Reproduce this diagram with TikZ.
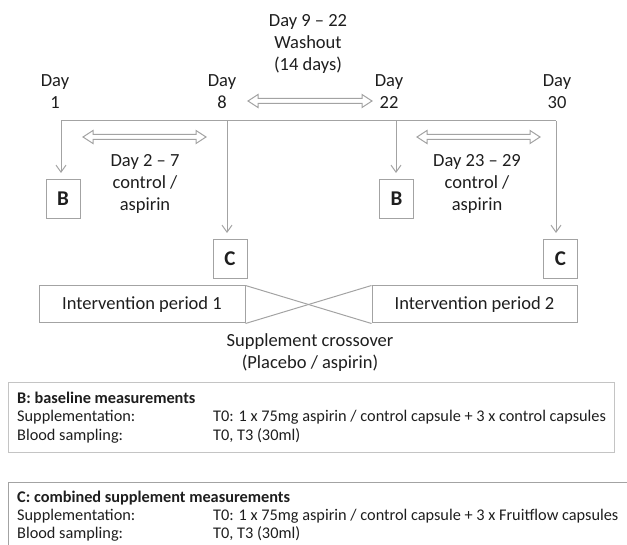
\documentclass[tikz,border=0pt]{standalone}
\usepackage{fontspec}
\setmainfont{Carlito}
\usetikzlibrary{arrows.meta}
\definecolor{lnc}{HTML}{A3A3A3}
\definecolor{boxc}{HTML}{C4C4C4}
\definecolor{txc}{HTML}{1E1E1E}
\newcommand\hollowarrow[3]{\draw[lnstyle, fill=white, line join=miter] (#1,#3) -- ({#1+10},{#3-6.5}) -- ({#1+10},{#3-2.5}) -- ({#2-10},{#3-2.5}) -- ({#2-10},{#3-6.5}) -- (#2,#3) -- ({#2-10},{#3+6.5}) -- ({#2-10},{#3+2.5}) -- ({#1+10},{#3+2.5}) -- ({#1+10},{#3+6.5}) -- cycle;}
\begin{document}
\begin{tikzpicture}[x=1pt,y=-1pt,
  lbl/.style={align=center, text=txc, font=\fontsize{18.5}{22}\selectfont, inner sep=0},
  lnstyle/.style={draw=lnc, line width=1pt},
  arr/.style={lnstyle, -{Straight Barb[length=7pt,width=10pt]}, shorten >=6pt},
  mbox/.style={draw=lnc, line width=1pt, text=txc, font=\fontsize{21}{21}\selectfont\bfseries, minimum width=34pt, minimum height=39pt, inner sep=0},
  ipbox/.style={draw=lnc, line width=1pt, text=txc, font=\fontsize{18.5}{22}\selectfont, minimum height=37pt, inner sep=0},
  small/.style={text=txc, font=\fontsize{16.3}{19}\selectfont, inner sep=0, anchor=base west},
  smallb/.style={small, font=\fontsize{16.3}{19}\selectfont\bfseries},
]
\useasboundingbox (0,0) rectangle (627,545);
% day labels
\node[lbl] (d1) at (55,92) {Day\\1};
\node[lbl] (d8) at (222,92) {Day\\8};
\node[lbl] (d22) at (389,92) {Day\\22};
\node[lbl] (d30) at (557,92) {Day\\30};
% washout
\node[lbl] (wash) at (308,44) {Day 9 -- 22\\Washout\\(14 days)};
\hollowarrow{248}{372}{101}
% timeline
\coordinate (t1) at (61,121);
\coordinate (t8) at (227,121);
\coordinate (t22) at (396,121);
\coordinate (t30) at (556,121);
\draw[lnstyle] (t1) -- (t30);
% measurement boxes
\node[mbox] (b1) at (63,199) {B};
\node[mbox] (c1) at (230,259) {C};
\node[mbox] (b2) at (396.5,199) {B};
\node[mbox] (c2) at (560.5,259) {C};
\draw[arr] (t1) -- (t1 |- b1.north);
\draw[arr] (t8) -- (t8 |- c1.north);
\draw[arr] (t22) -- (t22 |- b2.north);
\draw[arr] (t30) -- (t30 |- c2.north);
% treatment arrows
\hollowarrow{83}{206}{137}
\hollowarrow{417}{540}{137}
\node[lbl] (p1) at (145,184) {Day 2 -- 7\\control /\\aspirin};
\node[lbl] (p2) at (477,184) {Day 23 -- 29\\control /\\aspirin};
% intervention periods
\node[ipbox, minimum width=206pt] (ip1) at (142,304.5) {Intervention period 1};
\node[ipbox, minimum width=205pt] (ip2) at (474.5,304.5) {Intervention period 2};
\draw[lnstyle] (ip1.north east) -- (ip2.south west);
\draw[lnstyle] (ip1.south east) -- (ip2.north west);
\node[lbl] (cross) at (310,353) {Supplement crossover\\(Placebo / aspirin)};
% legend B
\draw[draw=boxc, line width=1pt] (8,383) rectangle (614,452);
\node[smallb] (bh) at (17,404) {B: baseline measurements};
\node[small] (bs) at (17,422) {Supplementation:};
\node[small] (bsv) at (213,422) {T0: 1 x 75mg aspirin / control capsule + 3 x control capsules};
\node[small] (bb) at (17,440) {Blood sampling:};
\node[small] (bbv) at (213,440) {T0, T3 (30ml)};
% legend C
\draw[draw=lnc, line width=1pt] (8,548) -- (8,482) -- (630,482);
\node[smallb] (ch) at (17,502) {C: combined supplement measurements};
\node[small] (cs) at (17,520) {Supplementation:};
\node[small] (csv) at (213,520) {T0: 1 x 75mg aspirin / control capsule + 3 x Fruitflow capsules};
\node[small] (cb) at (17,538) {Blood sampling:};
\node[small] (cbv) at (213,538) {T0, T3 (30ml)};
\end{tikzpicture}
\end{document}
